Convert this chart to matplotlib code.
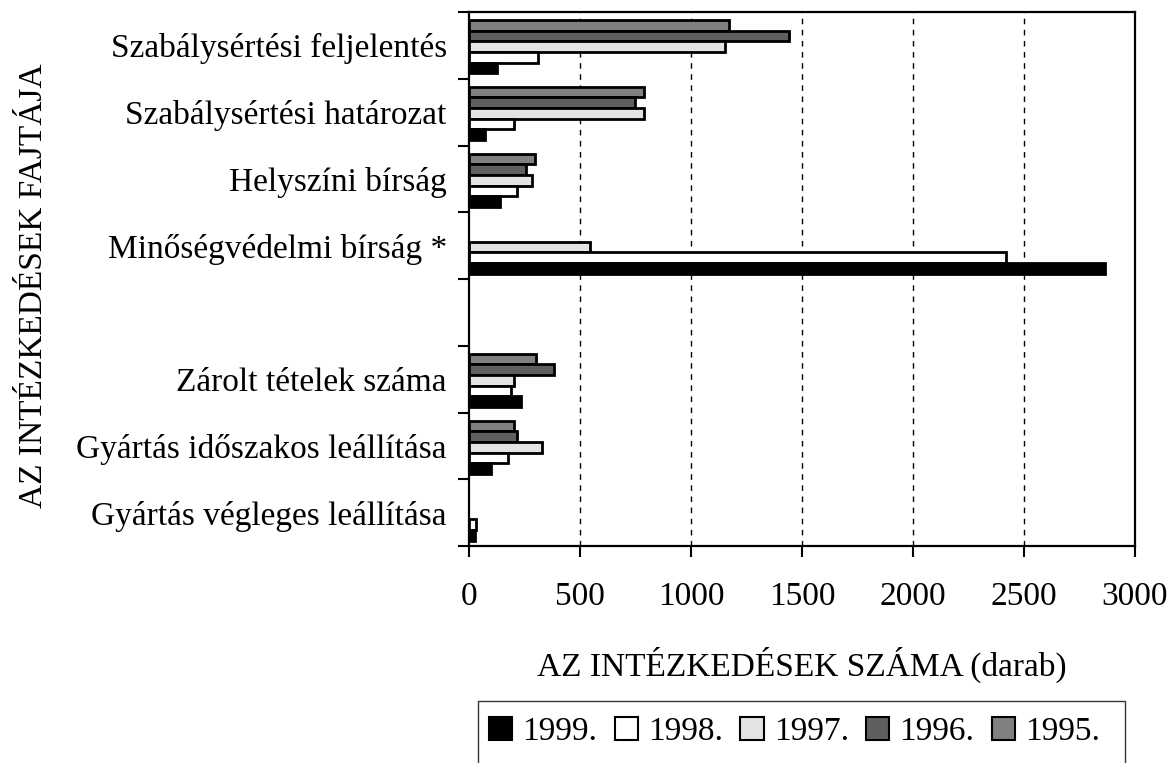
import matplotlib
matplotlib.use("Agg")
import matplotlib.pyplot as plt
from matplotlib.patches import Patch, Rectangle
import numpy as np

plt.rcParams['font.family'] = ['Liberation Serif', 'DejaVu Serif']

categories = ["Szabálysértési feljelentés", "Szabálysértési határozat", "Helyszíni bírság",
              "Minőségvédelmi bírság *", "", "Zárolt tételek száma",
              "Gyártás időszakos leállítása", "Gyártás végleges leállítása"]
years = ["1995.", "1996.", "1997.", "1998.", "1999."]
v1995 = [1170, 790, 297, 0, 0, 300, 204, 0]
v1996 = [1440, 748, 257, 0, 0, 381, 218, 0]
v1997 = [1155, 790, 285, 546, 0, 204, 330, 0]
v1998 = [312, 204, 218, 2418, 0, 189, 177, 30]
v1999 = [125, 72, 140, 2867, 0, 234, 98, 28]
series = [v1995, v1996, v1997, v1998, v1999]
colors = ["#808080", "#5f5f5f", "#e3e3e3", "#ffffff", "#000000"]
xticks = [0, 500, 1000, 1500, 2000, 2500, 3000]

FS = 24
W, H = 1171, 763

fig = plt.figure(figsize=(W/100, H/100), dpi=100)
ax = fig.add_axes([469/W, 1-546/H, (1135-469)/W, (546-12)/H])

n = len(categories)
idx = np.arange(n)
bh = 0.16
start = 0.12
for k, (vals, c) in enumerate(zip(series, colors)):
    y = idx + start + bh*k + bh/2
    vals = np.array(vals, dtype=float)
    mask = vals > 0
    ax.barh(y[mask], vals[mask], height=bh, color=c, edgecolor="black", linewidth=2.0, zorder=3)

ax.set_ylim(n, 0)
ax.set_xlim(0, 3000)
ax.set_xticks(xticks)
ax.set_xticklabels([str(t) for t in xticks], fontsize=FS)
ax.set_yticks(np.arange(n+1))
ax.set_yticklabels([])
ax.set_yticks(idx + 0.5, minor=True)
ax.set_yticklabels(categories, minor=True, fontsize=FS)
ax.tick_params(axis='y', which='minor', length=0, pad=16)
ax.tick_params(axis='y', which='major', length=8, width=1.5, direction='out')
ax.tick_params(axis='x', which='major', length=8, width=1.5, direction='out', pad=17.5)

for t in xticks[1:-1]:
    ax.axvline(t, color='black', linewidth=1.0, linestyle=(0, (4, 4)), zorder=1)

for s in ax.spines.values():
    s.set_linewidth(1.6)

ax.set_xlabel("AZ INTÉZKEDÉSEK SZÁMA (darab)", fontsize=FS, labelpad=25)
fig.text(34/W, 1-286/H, "AZ INTÉZKEDÉSEK FAJTÁJA", rotation=90, fontsize=FS,
         ha='center', va='center')

# legend frame
fig.patches.append(Rectangle((478/W, -10/H), (1125-478)/W, (H-701+10)/H,
                             transform=fig.transFigure, facecolor='none',
                             edgecolor='#333333', linewidth=1.0))

leg_order = [4, 3, 2, 1, 0]
handles = [Patch(facecolor=colors[i], edgecolor='black', linewidth=1.5) for i in leg_order]
labels = [years[i] for i in leg_order]
leg = fig.legend(handles, labels, ncol=5, loc='center left',
                 bbox_to_anchor=(489/W, 1-732/H), fontsize=FS,
                 frameon=False,
                 handlelength=0.7, handleheight=0.7, handletextpad=0.3,
                 columnspacing=0.52, borderpad=0, borderaxespad=0)

fig.savefig("out.png", dpi=100)
